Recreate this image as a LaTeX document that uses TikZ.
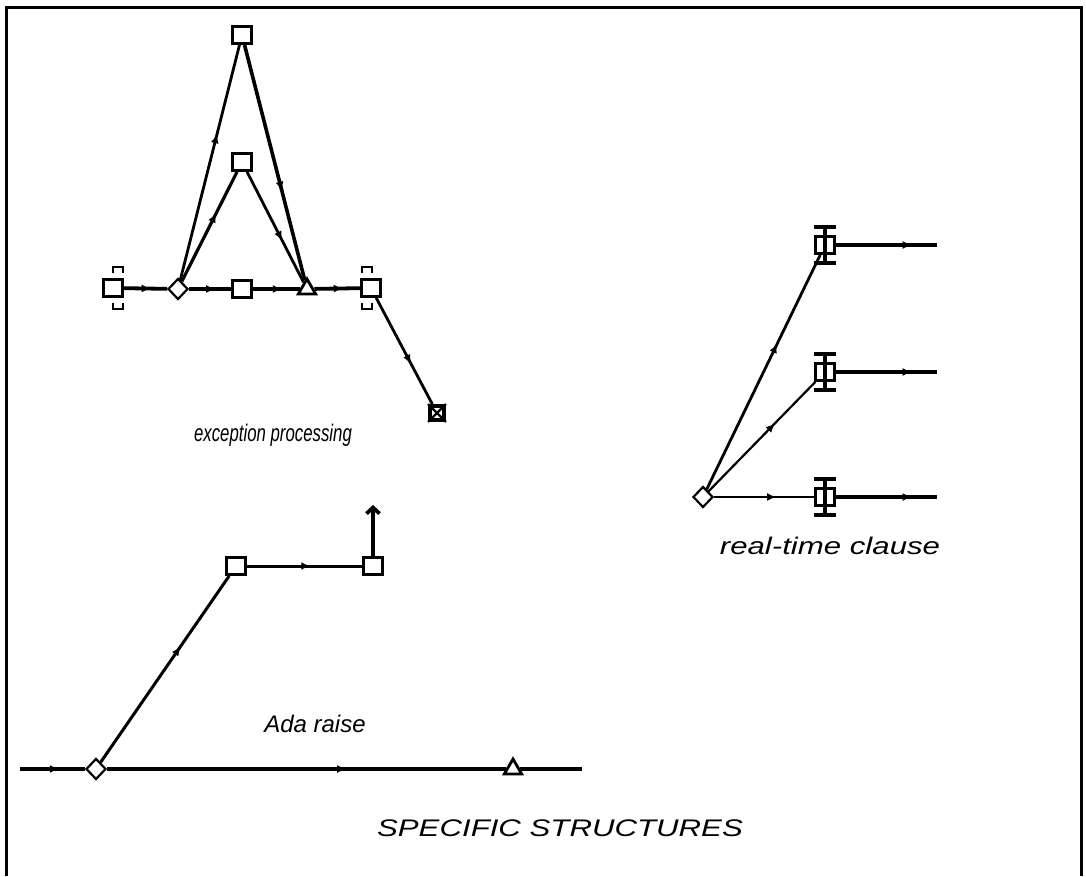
\documentclass[tikz,border=0pt]{standalone}
\usepackage{fontspec}
\setmainfont{Liberation Sans}
\usetikzlibrary{shapes.geometric,arrows.meta,decorations.markings,positioning}

\tikzset{
  box/.style={draw,rectangle,fill=white,line width=2.8pt,minimum width=19pt,minimum height=17pt,inner sep=0pt},
  dia/.style={draw,diamond,fill=white,line width=2.2pt,minimum width=20pt,minimum height=21pt,inner sep=0pt},
  tri/.style={draw,regular polygon,regular polygon sides=3,fill=white,line width=2.8pt,minimum size=20pt,inner sep=0pt},
  xbox/.style={box,line width=3.8pt,minimum width=14pt,minimum height=14pt},
  flow/.style={line width=2.8pt,postaction={decorate,decoration={markings,mark=at position #1 with {\arrow{Latex[length=9pt,width=8pt]}}}}},
  flow/.default=0.62,
  ibeam/.style={line width=3.2pt},
  lbl/.style={font=\fontsize{24}{28}\selectfont\itshape}
}

\begin{document}
\begin{tikzpicture}[x=1pt,y=-1pt]
  \useasboundingbox (0,0) rectangle (1086,876);
  \draw[line width=3pt] (6,876) -- (6,7) -- (1081,7) -- (1081,876);

  % exception processing
  \node[box] (e6) at (242,35) {};
  \node[box] (e7) at (242,162) {};
  \node[box] (e1) at (113,288) {};
  \node[dia] (e2) at (178,289) {};
  \node[box] (e3) at (242,289) {};
  \node[tri] (e4) at (307,289) {};
  \node[box] (e5) at (371,288) {};
  \node[xbox] (e8) at (437,413) {};
  \draw[line width=2.8pt] (113,273) -- (113,267) -- (123,267) -- (123,273)
                          (113,303) -- (113,309) -- (123,309) -- (123,303);
  \draw[line width=2.8pt] (362,273) -- (362,267) -- (372,267) -- (372,273)
                          (362,303) -- (362,309) -- (372,309) -- (372,303);
  \draw[line width=2.4pt] (e8.north west) -- (e8.south east) (e8.north east) -- (e8.south west);

  \path
    (e1) edge[flow,line width=3.8pt] (e2)
    (e2) edge[flow,line width=3.8pt] (e3)
    (e3) edge[flow,line width=3.8pt] (e4)
    (e4) edge[flow,line width=3.8pt] (e5)
    (e2) edge[flow] (e6)
    (e6) edge[flow,line width=3.6pt] (e4)
    (e2) edge[flow,line width=3.2pt] (e7)
    (e7) edge[flow] (e4)
    (e5) edge[flow] (e8)
    ;
  \node[lbl] (t1) at (273,435) {\scalebox{0.7}[1]{exception processing}};

  % real-time clause
  \node[box] (r2) at (825,245) {};
  \node[box] (r3) at (825,372) {};
  \node[box] (r4) at (825,497) {};
  \node[dia] (r1) at (703,497) {};
  \coordinate (r5) at (937,245);
  \coordinate (r6) at (937,372);
  \coordinate (r7) at (937,497);
  \foreach \n in {r2,r3,r4}
    \draw[ibeam] ([xshift=-11pt,yshift=18pt]\n.center) -- ([xshift=11pt,yshift=18pt]\n.center)
                 ([yshift=18pt]\n.center) -- ([yshift=-18pt]\n.center)
                 ([xshift=-11pt,yshift=-18pt]\n.center) -- ([xshift=11pt,yshift=-18pt]\n.center);
  \path
    (r1) edge[flow] (r2)
    (r1) edge[flow,line width=2.2pt] (r3)
    (r1) edge[flow] (r4)
    (r2) edge[flow=0.75,line width=3.2pt] (r5)
    (r3) edge[flow=0.75,line width=4.8pt] (r6)
    (r4) edge[flow=0.75,line width=4.8pt] (r7)
    ;
  \node[lbl] (t2) at (830,546) {\scalebox{1.3}[1]{real-time clause}};

  % Ada raise
  \coordinate (a1) at (20,769);
  \node[dia] (a2) at (96,769) {};
  \node[tri] (a3) at (513,769) {};
  \coordinate (a4) at (582,769);
  \node[box] (a5) at (236,566) {};
  \node[box] (a6) at (373,566) {};
  \coordinate (a7) at (373,505);
  \path
    (a1) edge[flow=0.6,line width=3.2pt] (a2)
    (a2) edge[flow=0.6,line width=3.2pt] (a3)
    (a3) edge[line width=3.2pt] (a4)
    (a2) edge[flow,line width=3pt] (a5)
    (a5) edge[flow=0.55,line width=3pt] (a6)
    (a6) edge[line width=3.8pt,-{Straight Barb[length=6pt,width=13pt]}] (a7)
    ;
  \node[lbl] (t3) at (315,724) {Ada raise};

  \node[lbl] (t4) at (560,828) {\scalebox{1.3}[1]{SPECIFIC STRUCTURES}};
\end{tikzpicture}
\end{document}
